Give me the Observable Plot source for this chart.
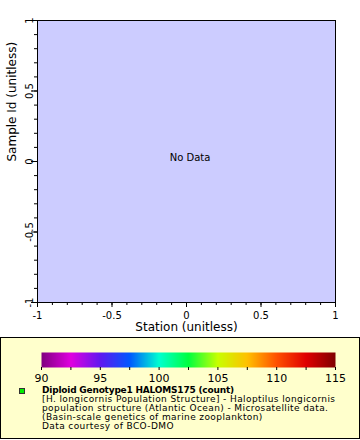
<!DOCTYPE html>
<html>
<head>
<meta charset="utf-8">
<script src="https://cdn.jsdelivr.net/npm/d3@7"></script>
<script src="https://cdn.jsdelivr.net/npm/@observablehq/plot@0.6"></script>
<style>
  body { margin: 0; background: #ffffff; font-family: "DejaVu Sans", sans-serif; }
  #wrap { position: relative; width: 360px; height: 440px; overflow: hidden; }
  #legend { position: absolute; left: 0; top: 337px; width: 358px; height: 100px;
            border: 1px solid #000; background: #FFFFCC; }
  #bar { position: absolute; left: 0; top: 0; }
  #swatch { position: absolute; left: 18px; top: 50px; width: 4px; height: 4px;
            background: #00ee00; border: 1px solid #333; }
  #txt { position: absolute; left: 41px; top: 47.5px; font-size: 9px; line-height: 9px;
         letter-spacing: 0.4px; color: #000; white-space: nowrap; }
  #txt .t { font-weight: bold; letter-spacing: -0.2px; }
</style>
</head>
<body>
<div id="wrap">
  <div id="chart"></div>
  <div id="legend">
    <div id="bar"></div>
    <div id="swatch"></div>
    <div id="txt"></div>
  </div>
</div>
<script>
// ---- data ----
const xDomain = [-1, 1];
const yDomain = [-1, 1];
const xMajorTicks = [-1, -0.5, 0, 0.5, 1];
const yMajorTicks = [-1, -0.5, 0, 0.5, 1];
const minorTicks = [-1, -0.9, -0.8, -0.7, -0.6, -0.5, -0.4, -0.3, -0.2, -0.1, 0,
                    0.1, 0.2, 0.3, 0.4, 0.5, 0.6, 0.7, 0.8, 0.9, 1];
const xLabel = "Station (unitless)";
const yLabel = "Sample Id (unitless)";
const noDataText = ["No Data"];

const colorStops = [90, 92.5, 95, 97.5, 100, 102.5, 105, 107.5, 110, 112.5, 115];
const colorRange = ["#800080", "#e000e0", "#6018f0", "#0058ff", "#00ffd0", "#00ff40",
                    "#c8ff00", "#ffc000", "#ff5000", "#e00000", "#800000"];
const cbLabelTicks = [90, 95, 100, 105, 110, 115];
const cbMinorTicks = [90, 92.5, 95, 97.5, 100, 102.5, 105, 107.5, 110, 112.5, 115];

const legendTitle = "Diploid Genotype1 HALOMS175 (count)";
const legendLines = [
  "[H. longicornis Population Structure] - Haloptilus longicornis",
  "population structure (Atlantic Ocean) - Microsatellite data.",
  "(Basin-scale genetics of marine zooplankton)",
  "Data courtesy of BCO-DMO"
];

const fmt = d => String(d);

// ---- main chart ----
const chart = Plot.plot({
  width: 360,
  height: 337,
  marginLeft: 37,
  marginRight: 25,
  marginTop: 20,
  marginBottom: 35,
  style: { fontFamily: "DejaVu Sans", fontSize: "10px", background: "transparent", color: "#000" },
  x: { domain: xDomain, axis: null },
  y: { domain: yDomain, axis: null },
  marks: [
    Plot.frame({ fill: "#CCCCFF", stroke: "none" }),
    Plot.axisX({ ticks: minorTicks, tickSize: 3, tickFormat: () => "", label: null }),
    Plot.axisX({ ticks: xMajorTicks, tickSize: 5, tickPadding: 4, tickFormat: fmt, label: null, fontSize: 10 }),
    Plot.axisY({ ticks: minorTicks, tickSize: 3, tickFormat: () => "", label: null }),
    Plot.axisY({ ticks: yMajorTicks, tickSize: 6, tickPadding: -1, tickRotate: -90, lineAnchor: "bottom",
                 textAnchor: "middle", tickFormat: fmt, label: null, fontSize: 10 }),
    Plot.text([xLabel], { frameAnchor: "bottom", dy: 28, fontSize: 12 }),
    Plot.text([yLabel], { frameAnchor: "left", dx: -25, rotate: -90, fontSize: 12 }),
    Plot.text(noDataText, { frameAnchor: "middle", dx: 3.5, dy: -4, fontSize: 10 }),
    Plot.frame({ stroke: "#000", strokeWidth: 1 })
  ]
});
document.getElementById("chart").appendChild(chart);

// ---- colorbar ----
const bar = Plot.plot({
  width: 358,
  height: 48,
  marginLeft: 40,
  marginRight: 24,
  marginTop: 14,
  marginBottom: 19,
  style: { fontFamily: "DejaVu Sans", fontSize: "10px", background: "transparent", color: "#000" },
  x: { domain: [colorStops[0], colorStops[colorStops.length - 1]], axis: null },
  y: { domain: [0, 1], axis: null },
  color: { type: "linear", domain: colorStops, range: colorRange, interpolate: "rgb" },
  marks: [
    Plot.raster({ fill: (x, y) => x, x1: colorStops[0], x2: colorStops[colorStops.length - 1], y1: 0, y2: 1, pixelSize: 1 }),
    Plot.axisX({ ticks: cbMinorTicks, tickSize: 3, tickFormat: () => "", label: null }),
    Plot.axisX({ ticks: cbLabelTicks, tickSize: 0, tickPadding: 7, tickFormat: fmt, label: null, fontSize: 11 })
  ]
});
document.getElementById("bar").appendChild(bar);

// ---- legend text ----
const txt = document.getElementById("txt");
const t = document.createElement("div");
t.className = "t";
t.textContent = legendTitle;
txt.appendChild(t);
legendLines.forEach(s => {
  const d = document.createElement("div");
  d.textContent = s;
  txt.appendChild(d);
});
</script>
</body>
</html>
